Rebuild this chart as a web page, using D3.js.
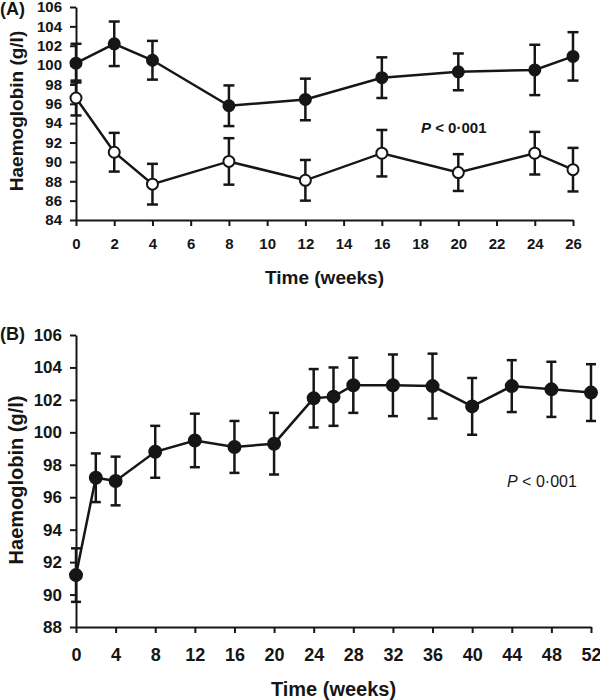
<!DOCTYPE html>
<html>
<head>
<meta charset="utf-8">
<script src="https://cdn.jsdelivr.net/npm/d3@7"></script>
<style>
  html, body { margin: 0; padding: 0; background: #fff; }
  svg { display: block; font-family: "Liberation Sans", Arial, Helvetica, sans-serif; }
</style>
</head>
<body>
<svg id="chart" width="600" height="700"></svg>
<script>
// ---- Panel A data ----
const weeksA = [0, 2, 4, 8, 12, 16, 20, 24, 26];
const filledA = [100.2, 102.2, 100.5, 95.8, 96.45, 98.7, 99.3, 99.5, 100.9];
const filledAErr = [2.0, 2.3, 2.0, 2.1, 2.15, 2.1, 1.9, 2.6, 2.5];
const openA = [96.6, 91.0, 87.7, 90.05, 88.1, 90.9, 88.9, 90.9, 89.2];
const openAErr = [1.8, 2.0, 2.1, 2.4, 2.1, 2.4, 1.9, 2.2, 2.25];
const xTicksA = [0, 2, 4, 6, 8, 10, 12, 14, 16, 18, 20, 22, 24, 26];
const yTicksA = [84, 86, 88, 90, 92, 94, 96, 98, 100, 102, 104, 106];

// ---- Panel B data ----
const weeksB = [0, 2, 4, 8, 12, 16, 20, 24, 26, 28, 32, 36, 40, 44, 48, 52];
const meanB = [91.2, 97.2, 97.0, 98.8, 99.5, 99.1, 99.3, 102.1, 102.2, 102.9, 102.9, 102.85, 101.6, 102.85, 102.65, 102.45];
const errB = [1.65, 1.5, 1.5, 1.6, 1.65, 1.6, 1.9, 1.8, 1.8, 1.7, 1.9, 2.0, 1.75, 1.6, 1.7, 1.75];
const xTicksB = [0, 4, 8, 12, 16, 20, 24, 28, 32, 36, 40, 44, 48, 52];
const yTicksB = [88, 90, 92, 94, 96, 98, 100, 102, 104, 106];

const yTitle = "Haemoglobin (g/l)";
const xTitle = "Time (weeks)";
const pText = ["P", " < 0·001"];

const ink = "#161616";
const svg = d3.select("#chart");

function styleAxis(g, fs, bold) {
  g.select(".domain").attr("stroke", ink).attr("stroke-width", 2);
  g.selectAll(".tick line").attr("stroke", ink).attr("stroke-width", 2);
  g.selectAll(".tick text").attr("fill", ink).attr("font-size", fs)
    .attr("font-weight", bold ? "bold" : "normal").attr("font-family", null);
}

function panel(cfg) {
  const x = d3.scaleLinear().domain(cfg.xDomain).range(cfg.xRange);
  const y = d3.scaleLinear().domain(cfg.yDomain).range(cfg.yRange);
  const g = svg.append("g");

  const gx = g.append("g").attr("transform", `translate(0,${cfg.yRange[0]})`)
    .call(d3.axisBottom(x).tickValues(cfg.xTicks).tickFormat(d3.format("d"))
      .tickSize(6).tickSizeOuter(0).tickPadding(cfg.xPad));
  styleAxis(gx, cfg.xFs, true);
  const gy = g.append("g").attr("transform", `translate(${cfg.xRange[0]},0)`)
    .call(d3.axisLeft(y).tickValues(cfg.yTicks).tickFormat(d3.format("d"))
      .tickSize(6).tickSizeOuter(0).tickPadding(8));
  styleAxis(gy, cfg.yFs, true);

  const line = d3.line().x(d => x(d[0])).y(d => y(d[1]));
  cfg.series.forEach(s => {
    const pts = cfg.weeks.map((w, i) => [w, s.vals[i], s.err[i]]);
    g.append("path").datum(pts).attr("d", line)
      .attr("fill", "none").attr("stroke", ink).attr("stroke-width", 2.5);
    const eb = g.append("g").selectAll("g").data(pts).join("g")
      .attr("stroke", ink).attr("stroke-width", 2.5);
    eb.append("line").attr("x1", d => x(d[0])).attr("x2", d => x(d[0]))
      .attr("y1", d => y(d[1] - d[2])).attr("y2", d => y(d[1] + d[2]));
    eb.append("line").attr("x1", d => x(d[0]) - cfg.cap).attr("x2", d => x(d[0]) + cfg.cap)
      .attr("y1", d => y(d[1] + d[2])).attr("y2", d => y(d[1] + d[2]));
    eb.append("line").attr("x1", d => x(d[0]) - cfg.cap).attr("x2", d => x(d[0]) + cfg.cap)
      .attr("y1", d => y(d[1] - d[2])).attr("y2", d => y(d[1] - d[2]));
    g.append("g").selectAll("circle").data(pts).join("circle")
      .attr("cx", d => x(d[0])).attr("cy", d => y(d[1])).attr("r", cfg.r)
      .attr("fill", s.open ? "#fff" : ink).attr("stroke", ink).attr("stroke-width", 2);
  });

  // titles
  g.append("text").attr("x", (cfg.xRange[0] + cfg.xRange[1]) / 2).attr("y", cfg.xTitleY)
    .attr("text-anchor", "middle").attr("font-weight", "bold").attr("font-size", cfg.titleFs)
    .attr("fill", ink).text(xTitle);
  g.append("text").attr("transform", `translate(${cfg.yTitleX},${cfg.yTitleCY}) rotate(-90)`)
    .attr("text-anchor", "middle").attr("font-weight", "bold").attr("font-size", cfg.titleFs)
    .attr("fill", ink).text(yTitle);
  g.append("text").attr("x", 0).attr("y", cfg.labelY).attr("font-weight", "bold")
    .attr("font-size", cfg.labelFs).attr("fill", ink).text(cfg.label);

  const pt = g.append("text").attr("x", cfg.pX).attr("y", cfg.pY)
    .attr("font-size", cfg.pFs).attr("fill", ink)
    .attr("font-weight", cfg.pBold ? "bold" : "normal");
  pt.append("tspan").attr("font-style", "italic").text(pText[0]);
  pt.append("tspan").text(pText[1]);
}

panel({
  xDomain: [0, 26], xRange: [76, 573], yDomain: [84, 106], yRange: [220, 7],
  xTicks: xTicksA, yTicks: yTicksA, xPad: 12, xFs: 15, yFs: 15,
  weeks: weeksA,
  series: [
    { vals: filledA, err: filledAErr, open: false },
    { vals: openA, err: openAErr, open: true }
  ],
  cap: 5.5, r: 5.5,
  titleFs: 19, xTitleY: 284, yTitleX: 23, yTitleCY: 111,
  label: "(A)", labelY: 15, labelFs: 18,
  pX: 421, pY: 133, pFs: 15, pBold: true
});

panel({
  xDomain: [0, 52], xRange: [76, 591], yDomain: [88, 106], yRange: [627, 335],
  xTicks: xTicksB, yTicks: yTicksB, xPad: 15, xFs: 18, yFs: 17,
  weeks: weeksB,
  series: [ { vals: meanB, err: errB, open: false } ],
  cap: 5, r: 6,
  titleFs: 20, xTitleY: 696, yTitleX: 23, yTitleCY: 480,
  label: "(B)", labelY: 340, labelFs: 18,
  pX: 507, pY: 487, pFs: 16, pBold: false
});
</script>
</body>
</html>
